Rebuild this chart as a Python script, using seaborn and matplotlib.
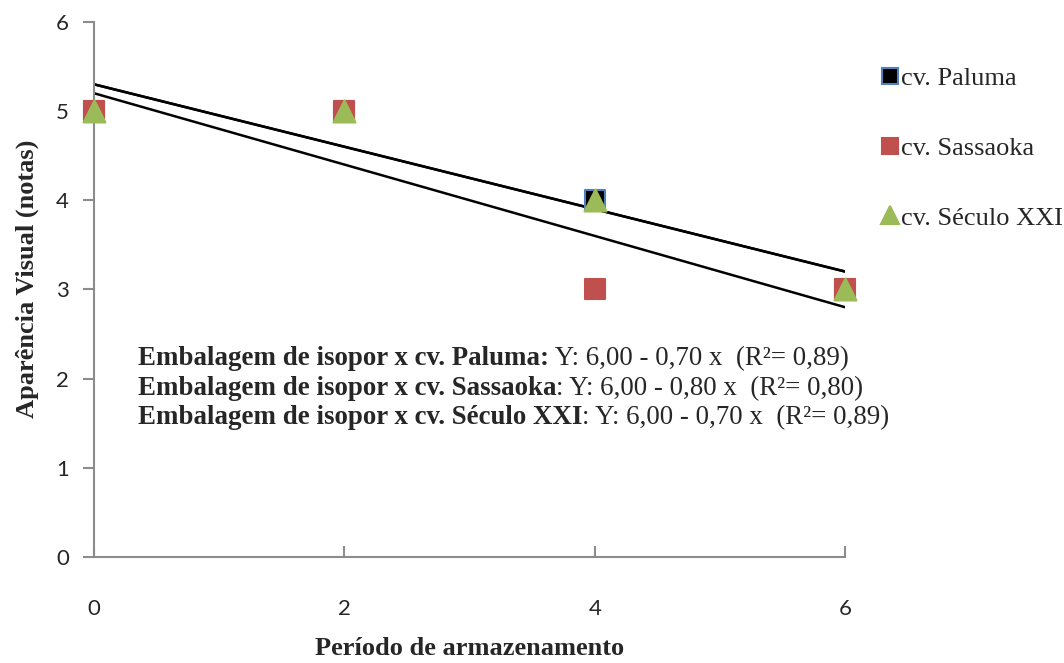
import matplotlib
matplotlib.use("Agg")
import matplotlib.pyplot as plt
import seaborn as sns
import pandas as pd
from matplotlib.lines import Line2D

# Storage period (x) and visual appearance scores per cultivar
periodo = [0, 2, 4, 6]
paluma = [5, 5, 4, 3]
sassaoka = [5, 5, 3, 3]
seculo_xxi = [5, 5, 4, 3]

cultivares = ["cv. Paluma", "cv. Sassaoka", "cv. Século XXI"]
cores = ["#000000", "#C0504D", "#9BBB59"]
bordas = ["#4F81BD", "#C0504D", "#9BBB59"]
marcadores = ["s", "s", "^"]

equacoes = [
    ("Embalagem de isopor x cv. Paluma:", " Y: 6,00 - 0,70 x  (R²= 0,89)"),
    ("Embalagem de isopor x cv. Sassaoka", ": Y: 6,00 - 0,80 x  (R²= 0,80)"),
    ("Embalagem de isopor x cv. Século XXI", ": Y: 6,00 - 0,70 x  (R²= 0,89)"),
]

df = pd.DataFrame({
    "periodo": periodo * 3,
    "nota": paluma + sassaoka + seculo_xxi,
    "cultivar": [c for c in cultivares for _ in periodo],
})

sns.set_style("white")
serif = ["Liberation Serif", "DejaVu Serif"]
sans = ["Lato", "DejaVu Sans"]

fig = plt.figure(figsize=(10.64, 6.63), dpi=100)
ax = fig.add_axes([0.0883, 0.160, 0.706, 0.807])

# Linear trend lines for each cultivar
for cv in cultivares:
    sub = df[df["cultivar"] == cv]
    sns.regplot(data=sub, x="periodo", y="nota", ax=ax, scatter=False, ci=None,
                truncate=True, line_kws=dict(color="black", lw=1.8, zorder=2))

# Observed points
for cv, cor, borda, mk in zip(cultivares, cores, bordas, marcadores):
    sub = df[df["cultivar"] == cv]
    sz = 190 if mk == "s" else 250
    sns.scatterplot(data=sub, x="periodo", y="nota", ax=ax, marker=mk, s=sz,
                    color=cor, edgecolor=borda, linewidth=1.5, zorder=3,
                    clip_on=False, legend=False)

ax.set_xlim(0, 6)
ax.set_ylim(0, 6)
ax.set_xticks([0, 2, 4, 6])
ax.set_yticks(range(0, 7))
for s in ["top", "right"]:
    ax.spines[s].set_visible(False)
for s in ["left", "bottom"]:
    ax.spines[s].set_color("#8C8C8C")
    ax.spines[s].set_linewidth(1.5)
ax.tick_params(axis="y", direction="out", length=8, width=1.5, color="#8C8C8C",
               pad=10, left=True, labelsize=16)
ax.tick_params(axis="x", direction="in", length=8, width=1.5, color="#8C8C8C",
               pad=30, bottom=True, labelsize=16)
for lab in ax.get_xticklabels() + ax.get_yticklabels():
    lab.set_family(sans)

ax.set_xlabel("Período de armazenamento", family=serif, fontweight="bold",
              fontsize=19, labelpad=13)
ax.set_ylabel("Aparência Visual (notas)", family=serif, fontweight="bold",
              fontsize=19, labelpad=12)
ax.yaxis.label.set_y(0.52)

# Regression equations
y0 = 0.370
dy = 0.055
for i, (negrito, normal) in enumerate(equacoes):
    t = ax.text(0.058, y0 - i * dy, negrito, transform=ax.transAxes,
                family=serif, fontweight="bold", fontsize=19.4, va="center")
    fig.canvas.draw()
    bb = t.get_window_extent().transformed(ax.transAxes.inverted())
    ax.text(bb.x1, y0 - i * dy, normal, transform=ax.transAxes,
            family=serif, fontsize=19.4, va="center")

# Legend
handles = [Line2D([], [], ls="none", marker=mk, markersize=11 if mk == "s" else 13,
                  markerfacecolor=cor, markeredgecolor=borda, markeredgewidth=1.5)
           for cor, borda, mk in zip(cores, bordas, marcadores)]
fig.legend(handles, cultivares, loc="upper left", bbox_to_anchor=(0.818, 0.915),
           frameon=False, prop=dict(family=serif, size=19), handlelength=0.7,
           handletextpad=0.05, labelspacing=1.75, borderaxespad=0)

fig.savefig("out.png", dpi=100)
